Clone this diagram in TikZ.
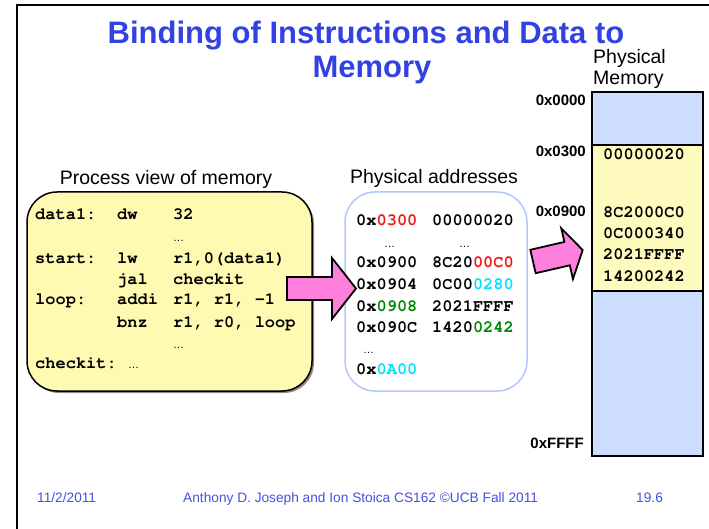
\documentclass[tikz,border=0pt]{standalone}
\usepackage[T1]{fontenc}
\usepackage{fontspec}
\setmainfont{Liberation Sans}
\usetikzlibrary{calc}
\definecolor{titleblue}{RGB}{50,65,228}
\definecolor{footblue}{RGB}{70,80,225}
\definecolor{procyellow}{RGB}{255,250,178}
\definecolor{memyellow}{RGB}{255,250,190}
\definecolor{memblue}{RGB}{204,221,255}
\definecolor{boxblue}{RGB}{180,198,255}
\definecolor{arrowpink}{RGB}{255,128,220}
\definecolor{addrred}{RGB}{245,20,20}
\definecolor{addrcyan}{RGB}{0,225,255}
\definecolor{addrgreen}{RGB}{0,135,0}
\newcommand\cfont{\fontencoding{T1}\fontfamily{pcr}\fontseries{b}\fontshape{n}\fontsize{17}{20}\selectfont}
\begin{document}
\begin{tikzpicture}[x=1pt,y=-1pt,
  code/.style={anchor=base west,inner sep=0pt,font=\cfont},
  dots/.style={anchor=base west,inner sep=0pt,font=\fontsize{11}{12}\selectfont},
  caption/.style={anchor=base,inner sep=0pt,font=\fontsize{19.5}{21}\selectfont},
  addr/.style={anchor=base east,inner sep=0pt,font=\bfseries\fontsize{15}{17}\selectfont},
  blockarrow/.style={fill=arrowpink,draw=black,line width=1.8pt,line join=miter},
  footer/.style={anchor=base west,inner sep=0pt,text=footblue,font=\fontsize{13.7}{15}\selectfont}]
\useasboundingbox (0,0) rectangle (709,529);
% slide frame
\draw[line width=2pt] (17,529) -- (17,5) -- (709,5);
% title
\node[anchor=base,inner sep=0pt,text=titleblue,font=\bfseries\fontsize{31}{35}\selectfont] (title1) at (366,44) {Binding of Instructions and Data to};
\node[anchor=base,inner sep=0pt,text=titleblue,font=\bfseries\fontsize{31}{35}\selectfont] (title2) at (372,78) {Memory};
% physical memory caption
\node[anchor=base west,inner sep=0pt,font=\fontsize{19.5}{21}\selectfont] (pm1) at (593,64) {Physical};
\node[anchor=base west,inner sep=0pt,font=\fontsize{19.5}{21}\selectfont] (pm2) at (593,85) {Memory};
% process view box
\node[caption] (pvcap) at (166,185) {Process view of memory};
\fill[black!45,rounded corners=30pt] (29,194) rectangle (314,393);
\draw[fill=procyellow,line width=1.5pt,rounded corners=30pt] (27,192) rectangle (312,391);
\node[code] (d1l) at (35,220) {data1:};
\node[code] (d1o) at (117,220) {dw};
\node[code] (d1a) at (173,220) {32};
\node[dots] (d1e) at (173,242) {…};
\node[code] (stl) at (35,263) {start:};
\node[code] (sto) at (117,263) {lw};
\node[code] (sta) at (173,263) {r1,0(data1)};
\node[code] (jlo) at (117,284) {jal};
\node[code] (jla) at (173,284) {checkit};
\node[code] (lpl) at (35,305) {loop:};
\node[code] (lpo) at (117,305) {addi};
\node[code] (lpa) at (173,305) {r1, r1, -1};
\node[code] (bzo) at (117,327) {bnz};
\node[code] (bza) at (173,327) {r1, r0, loop};
\node[dots] (bze) at (173,348) {…};
\node[code] (ckl) at (35,368) {checkit:};
\node[dots] (cke) at (128,368) {…};
% physical addresses box
\node[caption] (pacap) at (434,184) {Physical addresses};
\draw[draw=boxblue,fill=white,line width=1.5pt,rounded corners=30pt] (345,192) rectangle (527,391);
\node[code] (a1) at (356,226) {0x\textcolor{addrred}{0300}};
\node[code] (v1) at (432,226) {00000020};
\node[dots] (a1e) at (384,248) {…};
\node[dots] (v1e) at (459,248) {…};
\node[code] (a2) at (356,268) {0x0900};
\node[code] (v2) at (432,268) {8C20\textcolor{addrred}{00C0}};
\node[code] (a3) at (356,290) {0x0904};
\node[code] (v3) at (432,290) {0C00\textcolor{addrcyan}{0280}};
\node[code] (a4) at (356,311) {0x\textcolor{addrgreen}{0908}};
\node[code] (v4) at (432,311) {2021FFFF};
\node[code] (a5) at (356,332) {0x090C};
\node[code] (v5) at (432,332) {1420\textcolor{addrgreen}{0242}};
\node[dots] (a5e) at (363,353) {…};
\node[code] (a6) at (356,374) {0x\textcolor{addrcyan}{0A00}};
% physical memory column
\fill[memblue] (592,92) rectangle (703,145);
\fill[memyellow] (592,145) rectangle (703,291);
\fill[memblue] (592,291) rectangle (703,456);
\draw[line width=1.5pt] (592,145) -- (703,145) (592,291) -- (703,291);
\draw[line width=2pt] (592,92) rectangle (703,456);
\node[code] (m1) at (603,160) {00000020};
\node[code] (m2) at (603,218) {8C2000C0};
\node[code] (m3) at (603,239) {0C000340};
\node[code] (m4) at (603,260) {2021FFFF};
\node[code] (m5) at (603,281) {14200242};
\node[addr] (l1) at (586,106) {0x0000};
\node[addr] (l2) at (586,157) {0x0300};
\node[addr] (l3) at (586,217) {0x0900};
\node[addr] (l4) at (584,448) {0xFFFF};
% block arrows
\draw[blockarrow] (287,277) -- (332,277) -- (332,258) -- (356,288.5) -- (332,319) -- (332,300) -- (287,300) -- cycle;
\begin{scope}[shift={(533,261.5)},rotate=13]
\draw[blockarrow] (0,-12) -- (35,-12) -- (35,-26) -- (51,0) -- (35,26) -- (35,12) -- (0,12) -- cycle;
\end{scope}
% footer
\node[footer] (f1) at (37,502) {11/2/2011};
\node[footer] (f2) at (183,502) {Anthony D. Joseph and Ion Stoica CS162 ©UCB Fall 2011};
\node[footer] (f3) at (636,502) {19.6};
\end{tikzpicture}
\end{document}
